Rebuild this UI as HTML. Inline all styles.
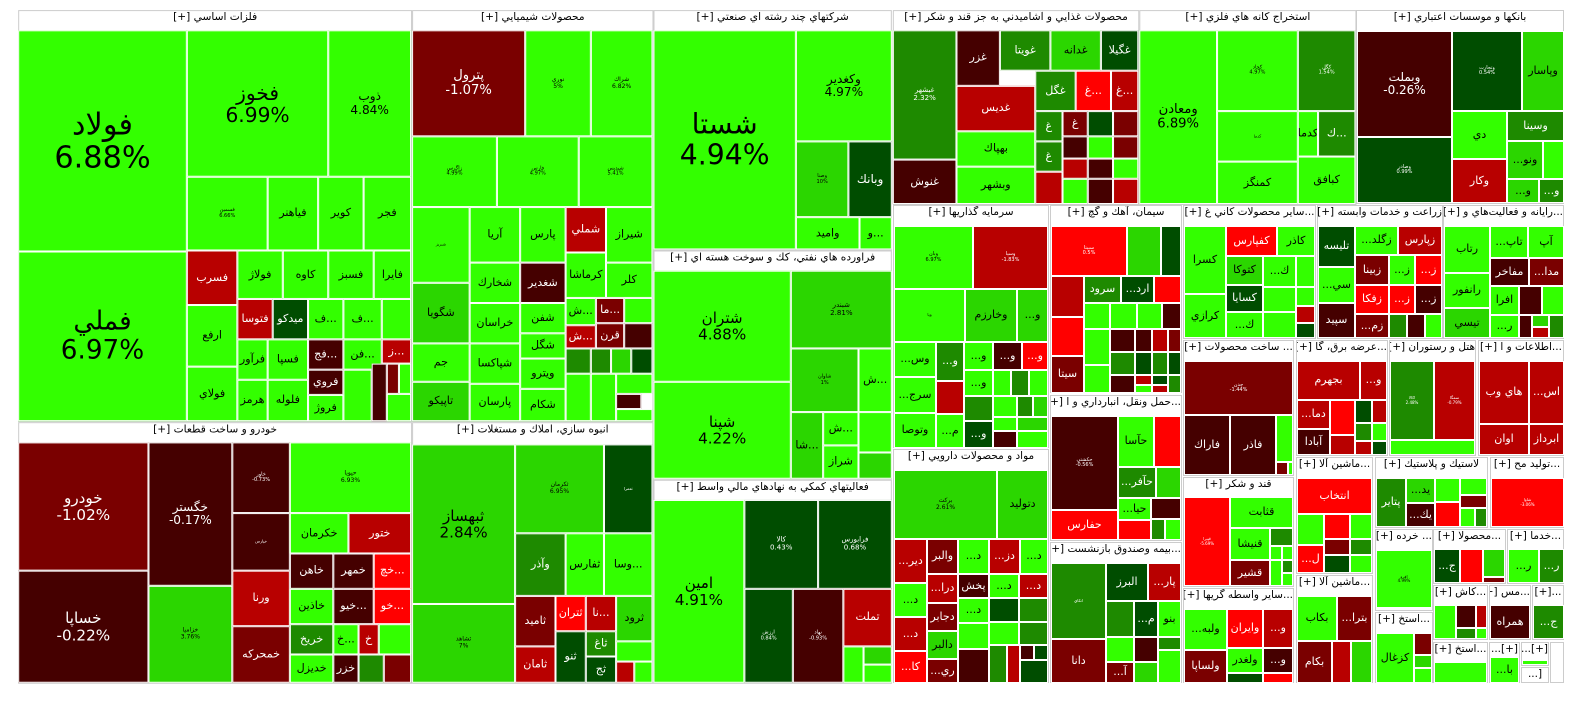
<!DOCTYPE html>
<html><head><meta charset="utf-8"><style>
body{margin:0;background:#fff;width:1584px;height:698px;overflow:hidden;position:relative}
.w{position:absolute;left:0;top:0;width:1584px;height:698px}
.sc{transform:scale(1.01);transform-origin:0 0}
.s{position:absolute;box-sizing:border-box;border:1px solid #ccc;background:#fff}
.h{position:absolute;left:0;right:0;top:0;height:20px;line-height:20px;text-align:center;font:10.5px "DejaVu Sans",sans-serif;color:#000;white-space:nowrap;overflow:hidden;direction:rtl}
.t{position:absolute;box-sizing:border-box;border:1px solid #fff;display:flex;flex-direction:column;align-items:center;justify-content:center;overflow:hidden;font-family:"DejaVu Sans",sans-serif;font-size:11px;line-height:1.1;text-align:center;white-space:nowrap}
.a{background:#33ff00;color:#000}.b{background:#2bd600;color:#000}.c{background:#1e8a00;color:#fff}.d{background:#004d00;color:#fff}
.e{background:#ff0000;color:#fff}.f{background:#b80000;color:#fff}.g{background:#7a0000;color:#fff}.k{background:#450000;color:#fff}
</style></head><body>
<div class="w sc">
<!-- A -->
<div class="s" style="left:18px;top:10px;width:390px;height:408px"><div class="h">فلزات اساسي [+]</div></div>
<div class="t a" style="left:18px;top:30px;width:167px;height:219px;font-size:30px">فولاد<br>6.88%</div>
<div class="t a" style="left:18px;top:249px;width:167px;height:168px;font-size:26px">فملي<br>6.97%</div>
<div class="t a" style="left:185px;top:30px;width:140px;height:145px;font-size:20px">فخوز<br>6.99%</div>
<div class="t a" style="left:325px;top:30px;width:82px;height:145px;font-size:12px">ذوب<br>4.84%</div>
<div class="t a" style="left:185px;top:175px;width:80px;height:73px;font-size:5px">فسمين<br>6.66%</div>
<div class="t a" style="left:265px;top:175px;width:50px;height:73px">فياهنر</div>
<div class="t a" style="left:315px;top:175px;width:45px;height:73px">كوير</div>
<div class="t a" style="left:360px;top:175px;width:47px;height:73px">فجر</div>
<div class="t f" style="left:185px;top:248px;width:50px;height:54px">فسرب</div>
<div class="t a" style="left:235px;top:248px;width:45px;height:48px">فولاژ</div>
<div class="t a" style="left:280px;top:248px;width:45px;height:48px">كاوه</div>
<div class="t a" style="left:325px;top:248px;width:45px;height:48px">فسبز</div>
<div class="t a" style="left:370px;top:248px;width:37px;height:48px">فايرا</div>
<div class="t a" style="left:185px;top:302px;width:50px;height:61px">ارفع</div>
<div class="t a" style="left:185px;top:363px;width:50px;height:54px">فولاي</div>
<div class="t f" style="left:235px;top:296px;width:35px;height:40px">فتوسا</div>
<div class="t d" style="left:270px;top:296px;width:35px;height:40px">ميدكو</div>
<div class="t a" style="left:305px;top:296px;width:35px;height:40px">ف...</div>
<div class="t a" style="left:340px;top:296px;width:38px;height:40px">ف...</div>
<div class="t a" style="left:378px;top:296px;width:29px;height:40px"></div>
<div class="t a" style="left:235px;top:336px;width:30px;height:40px">فرآور</div>
<div class="t a" style="left:235px;top:376px;width:30px;height:41px">هرمز</div>
<div class="t a" style="left:265px;top:336px;width:40px;height:40px">فسپا</div>
<div class="t a" style="left:265px;top:376px;width:40px;height:41px">فلوله</div>
<div class="t k" style="left:305px;top:336px;width:35px;height:30px">فج...</div>
<div class="t a" style="left:340px;top:336px;width:38px;height:30px">فن...</div>
<div class="t f" style="left:378px;top:336px;width:29px;height:24px">ز...</div>
<div class="t k" style="left:305px;top:366px;width:35px;height:25px">فروي</div>
<div class="t a" style="left:305px;top:391px;width:35px;height:26px">فروژ</div>
<div class="t a" style="left:340px;top:366px;width:28px;height:51px"></div>
<div class="t k" style="left:368px;top:360px;width:15px;height:57px"></div>
<div class="t g" style="left:383px;top:360px;width:12px;height:30px"></div>
<div class="t a" style="left:395px;top:360px;width:12px;height:30px"></div>
<div class="t a" style="left:383px;top:390px;width:24px;height:27px"></div>
<!-- B -->
<div class="s" style="left:408px;top:10px;width:239px;height:408px"><div class="h">محصولات شيميايي [+]</div></div>
<div class="t g" style="left:408px;top:30px;width:112px;height:105px;font-size:13px">پترول<br>-1.07%</div>
<div class="t a" style="left:520px;top:30px;width:65px;height:105px;font-size:6px">نوري<br>5%</div>
<div class="t a" style="left:585px;top:30px;width:61px;height:105px;font-size:6px">شراك<br>6.82%</div>
<div class="t a" style="left:408px;top:135px;width:84px;height:70px;font-size:5px">زاگرس<br>4.99%</div>
<div class="t a" style="left:492px;top:135px;width:81px;height:70px;font-size:5px">فارس<br>4.97%</div>
<div class="t a" style="left:573px;top:135px;width:73px;height:70px;font-size:5px">شپديس<br>5.41%</div>
<div class="t a" style="left:408px;top:205px;width:57px;height:75px;font-size:4px">شبريز</div>
<div class="t a" style="left:465px;top:205px;width:50px;height:55px">آريا</div>
<div class="t a" style="left:515px;top:205px;width:45px;height:55px">پارس</div>
<div class="t f" style="left:560px;top:205px;width:40px;height:45px">شملي</div>
<div class="t a" style="left:600px;top:205px;width:46px;height:55px">شيراز</div>
<div class="t b" style="left:408px;top:280px;width:57px;height:60px">شگويا</div>
<div class="t a" style="left:465px;top:260px;width:50px;height:40px">شخارك</div>
<div class="t k" style="left:515px;top:260px;width:45px;height:40px">شغدير</div>
<div class="t a" style="left:560px;top:250px;width:40px;height:45px">كرماشا</div>
<div class="t a" style="left:600px;top:260px;width:46px;height:35px">كلر</div>
<div class="t a" style="left:408px;top:340px;width:57px;height:38px">جم</div>
<div class="t b" style="left:408px;top:378px;width:57px;height:39px">تاپيكو</div>
<div class="t a" style="left:465px;top:300px;width:50px;height:40px">خراسان</div>
<div class="t a" style="left:465px;top:340px;width:50px;height:40px">شپاكسا</div>
<div class="t a" style="left:465px;top:380px;width:50px;height:37px">پارسان</div>
<div class="t a" style="left:515px;top:300px;width:45px;height:30px">شفن</div>
<div class="t a" style="left:515px;top:330px;width:45px;height:25px">شگل</div>
<div class="t a" style="left:515px;top:355px;width:45px;height:30px">ويترو</div>
<div class="t a" style="left:515px;top:385px;width:45px;height:32px">شكام</div>
<div class="t a" style="left:560px;top:295px;width:30px;height:27px">ش...</div>
<div class="t g" style="left:590px;top:295px;width:28px;height:25px">ما...</div>
<div class="t a" style="left:618px;top:295px;width:28px;height:25px"></div>
<div class="t f" style="left:560px;top:322px;width:30px;height:23px">ش...</div>
<div class="t g" style="left:590px;top:320px;width:28px;height:25px">قرن</div>
<div class="t k" style="left:618px;top:320px;width:28px;height:25px"></div>
<div class="t c" style="left:560px;top:345px;width:25px;height:25px"></div>
<div class="t c" style="left:585px;top:345px;width:20px;height:25px"></div>
<div class="t b" style="left:605px;top:345px;width:20px;height:25px"></div>
<div class="t d" style="left:625px;top:345px;width:21px;height:25px"></div>
<div class="t a" style="left:560px;top:370px;width:25px;height:47px"></div>
<div class="t a" style="left:585px;top:370px;width:25px;height:47px"></div>
<div class="t a" style="left:610px;top:370px;width:36px;height:20px"></div>
<div class="t k" style="left:610px;top:390px;width:25px;height:15px"></div>
<div class="t a" style="left:610px;top:405px;width:36px;height:12px"></div>
<!-- C -->
<div class="s" style="left:647px;top:10px;width:236px;height:238px"><div class="h">شركتهاي چند رشته اي صنعتي [+]</div></div>
<div class="t a" style="left:647px;top:30px;width:141px;height:217px;font-size:28px">شستا<br>4.94%</div>
<div class="t a" style="left:788px;top:30px;width:95px;height:110px;font-size:12px">وكغدير<br>4.97%</div>
<div class="t b" style="left:788px;top:140px;width:52px;height:75px;font-size:5px">وصنا<br>10%</div>
<div class="t d" style="left:840px;top:140px;width:43px;height:75px;font-size:12px">وبانك</div>
<div class="t a" style="left:788px;top:215px;width:63px;height:32px">واميد</div>
<div class="t a" style="left:851px;top:215px;width:32px;height:32px">و...</div>
<!-- D -->
<div class="s" style="left:647px;top:248px;width:236px;height:227px"><div class="h">فراورده هاي نفتي، كك و سوخت هسته اي [+]</div></div>
<div class="t a" style="left:647px;top:268px;width:136px;height:110px;font-size:15px">شتران<br>4.88%</div>
<div class="t a" style="left:647px;top:378px;width:136px;height:96px;font-size:15px">شپنا<br>4.22%</div>
<div class="t b" style="left:783px;top:268px;width:100px;height:77px;font-size:7px">شبندر<br>2.81%</div>
<div class="t b" style="left:783px;top:345px;width:67px;height:63px;font-size:5px">شاوان<br>1%</div>
<div class="t a" style="left:850px;top:345px;width:33px;height:63px">ش...</div>
<div class="t b" style="left:783px;top:408px;width:32px;height:66px">شا...</div>
<div class="t a" style="left:815px;top:408px;width:35px;height:33px">ش...</div>
<div class="t a" style="left:815px;top:441px;width:35px;height:33px">شراز</div>
<div class="t a" style="left:850px;top:408px;width:33px;height:40px"></div>
<div class="t b" style="left:850px;top:448px;width:33px;height:26px"></div>
<!-- E -->
<div class="s" style="left:647px;top:475px;width:236px;height:202px"><div class="h">فعاليتهاي كمكي به نهادهاي مالي واسط [+]</div></div>
<div class="t a" style="left:647px;top:495px;width:90px;height:181px;font-size:15px">امين<br>4.91%</div>
<div class="t d" style="left:737px;top:495px;width:73px;height:88px;font-size:7px">كالا<br>0.43%</div>
<div class="t d" style="left:810px;top:495px;width:73px;height:88px;font-size:7px">فرابورس<br>0.68%</div>
<div class="t d" style="left:737px;top:583px;width:48px;height:93px;font-size:5px">ارزش<br>0.84%</div>
<div class="t k" style="left:785px;top:583px;width:50px;height:93px;font-size:5px">نهاد<br>-0.93%</div>
<div class="t f" style="left:835px;top:583px;width:48px;height:57px">تملت</div>
<div class="t a" style="left:835px;top:640px;width:20px;height:36px"></div>
<div class="t b" style="left:855px;top:640px;width:28px;height:18px"></div>
<div class="t a" style="left:855px;top:658px;width:28px;height:18px"></div>
<!-- F -->
<div class="s" style="left:18px;top:418px;width:390px;height:259px"><div class="h">خودرو و ساخت قطعات [+]</div></div>
<div class="t g" style="left:18px;top:438px;width:129px;height:127px;font-size:15px">خودرو<br>-1.02%</div>
<div class="t k" style="left:18px;top:565px;width:129px;height:111px;font-size:15px">خساپا<br>-0.22%</div>
<div class="t k" style="left:147px;top:438px;width:83px;height:142px;font-size:12px">خگستر<br>-0.17%</div>
<div class="t b" style="left:147px;top:580px;width:83px;height:96px;font-size:6px">خزامیا<br>3.76%</div>
<div class="t k" style="left:230px;top:438px;width:57px;height:70px;font-size:5px">خاور<br>-0.73%</div>
<div class="t a" style="left:287px;top:438px;width:120px;height:70px;font-size:6px">حپويا<br>6.93%</div>
<div class="t k" style="left:230px;top:508px;width:57px;height:57px;font-size:4px">خپارس</div>
<div class="t a" style="left:287px;top:508px;width:58px;height:40px">خكرمان</div>
<div class="t f" style="left:345px;top:508px;width:62px;height:40px">ختور</div>
<div class="t f" style="left:230px;top:565px;width:57px;height:55px">ورنا</div>
<div class="t g" style="left:230px;top:620px;width:57px;height:56px">خمحركه</div>
<div class="t k" style="left:287px;top:548px;width:43px;height:35px">خاهن</div>
<div class="t k" style="left:330px;top:548px;width:40px;height:35px">خمهر</div>
<div class="t e" style="left:370px;top:548px;width:37px;height:35px">خچ...</div>
<div class="t a" style="left:287px;top:583px;width:43px;height:35px">خاذين</div>
<div class="t k" style="left:330px;top:583px;width:40px;height:35px">خيو...</div>
<div class="t e" style="left:370px;top:583px;width:37px;height:35px">خو...</div>
<div class="t c" style="left:287px;top:618px;width:43px;height:30px">خريخ</div>
<div class="t a" style="left:330px;top:618px;width:25px;height:30px">خ...</div>
<div class="t f" style="left:355px;top:618px;width:20px;height:30px">خ</div>
<div class="t a" style="left:375px;top:618px;width:32px;height:30px"></div>
<div class="t a" style="left:287px;top:648px;width:43px;height:28px">خديزل</div>
<div class="t k" style="left:330px;top:648px;width:25px;height:28px">خزر</div>
<div class="t c" style="left:355px;top:648px;width:25px;height:28px"></div>
<div class="t g" style="left:380px;top:648px;width:27px;height:28px"></div>
<!-- G -->
<div class="s" style="left:408px;top:418px;width:239px;height:259px"><div class="h">انبوه سازي، املاك و مستغلات [+]</div></div>
<div class="t b" style="left:408px;top:440px;width:102px;height:158px;font-size:15px">ثبهساز<br>2.84%</div>
<div class="t b" style="left:408px;top:598px;width:102px;height:78px;font-size:6px">ثشاهد<br>7%</div>
<div class="t b" style="left:510px;top:440px;width:88px;height:88px;font-size:6px">ثكرمان<br>6.95%</div>
<div class="t d" style="left:598px;top:440px;width:48px;height:88px;font-size:4px">ثعمرا</div>
<div class="t c" style="left:510px;top:528px;width:50px;height:62px">وآذر</div>
<div class="t a" style="left:560px;top:528px;width:38px;height:62px">ثفارس</div>
<div class="t a" style="left:598px;top:528px;width:48px;height:62px">وسا...</div>
<div class="t g" style="left:510px;top:590px;width:40px;height:50px">ثاميد</div>
<div class="t e" style="left:550px;top:590px;width:30px;height:35px">ثتران</div>
<div class="t f" style="left:580px;top:590px;width:30px;height:35px">نا...</div>
<div class="t b" style="left:610px;top:590px;width:36px;height:45px">ثرود</div>
<div class="t f" style="left:510px;top:640px;width:40px;height:36px">ثامان</div>
<div class="t d" style="left:550px;top:625px;width:30px;height:51px">ثنو</div>
<div class="t c" style="left:580px;top:625px;width:30px;height:25px">ثاغ</div>
<div class="t d" style="left:580px;top:650px;width:30px;height:26px">ثج</div>
<div class="t a" style="left:610px;top:635px;width:36px;height:20px"></div>
<div class="t f" style="left:610px;top:655px;width:18px;height:21px"></div>
<div class="t a" style="left:628px;top:655px;width:18px;height:21px"></div>
<!-- H -->
<div class="s" style="left:884px;top:10px;width:244px;height:193px"><div class="h">محصولات غذايي و آشاميدني به جز قند و شكر [+]</div></div>
<div class="t c" style="left:884px;top:30px;width:63px;height:128px;font-size:7px">غبشهر<br>2.32%</div>
<div class="t k" style="left:884px;top:158px;width:63px;height:44px">غنوش</div>
<div class="t k" style="left:947px;top:30px;width:43px;height:55px">غزر</div>
<div class="t c" style="left:990px;top:30px;width:50px;height:40px">غويتا</div>
<div class="t b" style="left:1040px;top:30px;width:50px;height:40px">غدانه</div>
<div class="t d" style="left:1090px;top:30px;width:37px;height:40px">غگيلا</div>
<div class="t f" style="left:947px;top:85px;width:78px;height:45px">غديس</div>
<div class="t c" style="left:1025px;top:70px;width:40px;height:40px">غگل</div>
<div class="t e" style="left:1065px;top:70px;width:35px;height:40px">غ...</div>
<div class="t f" style="left:1100px;top:70px;width:27px;height:40px">غ...</div>
<div class="t a" style="left:947px;top:130px;width:78px;height:35px">بهپاك</div>
<div class="t a" style="left:947px;top:165px;width:78px;height:37px">وبشهر</div>
<div class="t c" style="left:1025px;top:110px;width:27px;height:30px">غ</div>
<div class="t g" style="left:1052px;top:110px;width:25px;height:25px">غ</div>
<div class="t d" style="left:1077px;top:110px;width:25px;height:25px"></div>
<div class="t g" style="left:1102px;top:110px;width:25px;height:25px"></div>
<div class="t c" style="left:1025px;top:140px;width:27px;height:30px">غ</div>
<div class="t f" style="left:1025px;top:170px;width:27px;height:32px"></div>
<div class="t k" style="left:1052px;top:135px;width:25px;height:22px"></div>
<div class="t a" style="left:1077px;top:135px;width:25px;height:22px"></div>
<div class="t g" style="left:1102px;top:135px;width:25px;height:22px"></div>
<div class="t f" style="left:1052px;top:157px;width:25px;height:20px"></div>
<div class="t k" style="left:1077px;top:157px;width:25px;height:20px"></div>
<div class="t a" style="left:1102px;top:157px;width:25px;height:20px"></div>
<div class="t a" style="left:1052px;top:177px;width:25px;height:25px"></div>
<div class="t k" style="left:1077px;top:177px;width:25px;height:25px"></div>
<div class="t f" style="left:1102px;top:177px;width:25px;height:25px"></div>
<!-- I -->
<div class="s" style="left:1128px;top:10px;width:215px;height:193px"><div class="h">استخراج كانه هاي فلزي [+]</div></div>
<div class="t a" style="left:1128px;top:30px;width:77px;height:172px;font-size:13px">ومعادن<br>6.89%</div>
<div class="t a" style="left:1205px;top:30px;width:80px;height:80px;font-size:5px">كچاد<br>4.97%</div>
<div class="t c" style="left:1285px;top:30px;width:57px;height:80px;font-size:5px">كگل<br>1.54%</div>
<div class="t a" style="left:1205px;top:110px;width:80px;height:50px;font-size:4px">كدما</div>
<div class="t a" style="left:1205px;top:160px;width:80px;height:42px">كمنگز</div>
<div class="t a" style="left:1285px;top:110px;width:20px;height:45px">كدما</div>
<div class="t c" style="left:1305px;top:110px;width:37px;height:45px">ك...</div>
<div class="t a" style="left:1285px;top:155px;width:57px;height:47px">كبافق</div>
</div>

<div class="w">
<!-- J banks -->
<div class="s" style="left:1356px;top:10px;width:208px;height:194px"><div class="h">بانكها و موسسات اعتباري [+]</div></div>
<div class="t k" style="left:1357px;top:31px;width:95px;height:106px;font-size:12px">وبملت<br>-0.26%</div>
<div class="t d" style="left:1357px;top:137px;width:95px;height:66px;font-size:5px">وصادر<br>0.99%</div>
<div class="t d" style="left:1452px;top:31px;width:70px;height:80px;font-size:5px">وتجارت<br>0.54%</div>
<div class="t b" style="left:1522px;top:31px;width:42px;height:80px">وپاسار</div>
<div class="t a" style="left:1452px;top:111px;width:55px;height:48px">دي</div>
<div class="t c" style="left:1507px;top:111px;width:57px;height:30px">وسينا</div>
<div class="t b" style="left:1507px;top:141px;width:36px;height:38px">...ونو</div>
<div class="t a" style="left:1543px;top:141px;width:21px;height:38px"></div>
<div class="t f" style="left:1452px;top:159px;width:55px;height:44px">وكار</div>
<div class="t b" style="left:1507px;top:179px;width:32px;height:24px">...و</div>
<div class="t c" style="left:1539px;top:179px;width:25px;height:24px">...و</div>
<!-- K -->
<div class="s" style="left:893px;top:205px;width:156px;height:243px"><div class="h">سرمايه گذاريها [+]</div></div>
<div class="t a" style="left:894px;top:226px;width:79px;height:63px;font-size:5px">وبان<br>6.97%</div>
<div class="t f" style="left:973px;top:226px;width:75px;height:63px;font-size:5px">وسپا<br>-1.83%</div>
<div class="t a" style="left:894px;top:289px;width:71px;height:53px;font-size:4px">ويا</div>
<div class="t b" style="left:965px;top:289px;width:52px;height:53px">وخارزم</div>
<div class="t b" style="left:1017px;top:289px;width:31px;height:53px">...و</div>
<div class="t a" style="left:894px;top:342px;width:42px;height:35px">...وس</div>
<div class="t c" style="left:936px;top:342px;width:28px;height:39px">...و</div>
<div class="t a" style="left:964px;top:342px;width:29px;height:28px">...و</div>
<div class="t k" style="left:993px;top:342px;width:29px;height:28px">...و</div>
<div class="t e" style="left:1022px;top:342px;width:26px;height:28px">...و</div>
<div class="t a" style="left:894px;top:377px;width:42px;height:36px">...سرج</div>
<div class="t f" style="left:936px;top:381px;width:28px;height:33px"></div>
<div class="t a" style="left:964px;top:370px;width:29px;height:26px">...و</div>
<div class="t a" style="left:993px;top:370px;width:18px;height:26px"></div>
<div class="t c" style="left:1011px;top:370px;width:18px;height:26px"></div>
<div class="t a" style="left:1029px;top:370px;width:19px;height:26px"></div>
<div class="t a" style="left:894px;top:413px;width:42px;height:35px">وتوصا</div>
<div class="t a" style="left:936px;top:414px;width:28px;height:34px">...م</div>
<div class="t c" style="left:964px;top:396px;width:29px;height:25px"></div>
<div class="t d" style="left:964px;top:421px;width:29px;height:27px">...و</div>
<div class="t a" style="left:993px;top:396px;width:24px;height:21px"></div>
<div class="t c" style="left:1017px;top:396px;width:16px;height:21px"></div>
<div class="t b" style="left:1033px;top:396px;width:15px;height:21px"></div>
<div class="t a" style="left:993px;top:417px;width:24px;height:14px"></div>
<div class="t b" style="left:1017px;top:417px;width:31px;height:14px"></div>
<div class="t k" style="left:993px;top:431px;width:24px;height:17px"></div>
<div class="t a" style="left:1017px;top:431px;width:31px;height:17px"></div>
<!-- L -->
<div class="s" style="left:893px;top:449px;width:156px;height:234px"><div class="h">مواد و محصولات دارويي [+]</div></div>
<div class="t b" style="left:894px;top:470px;width:103px;height:69px;font-size:6px">بركت<br>2.61%</div>
<div class="t b" style="left:997px;top:470px;width:51px;height:69px">دتوليد</div>
<div class="t f" style="left:894px;top:539px;width:33px;height:44px">...دير</div>
<div class="t g" style="left:927px;top:539px;width:31px;height:35px">والبر</div>
<div class="t a" style="left:958px;top:539px;width:31px;height:35px">...د</div>
<div class="t f" style="left:989px;top:539px;width:31px;height:35px">...دز</div>
<div class="t a" style="left:1020px;top:539px;width:28px;height:35px">...د</div>
<div class="t a" style="left:894px;top:583px;width:33px;height:34px">...د</div>
<div class="t f" style="left:927px;top:574px;width:31px;height:29px">...درا</div>
<div class="t k" style="left:958px;top:574px;width:31px;height:24px">پخش</div>
<div class="t a" style="left:989px;top:574px;width:30px;height:24px">...د</div>
<div class="t f" style="left:1019px;top:574px;width:29px;height:24px">...د</div>
<div class="t f" style="left:894px;top:617px;width:33px;height:34px">...د</div>
<div class="t g" style="left:927px;top:603px;width:31px;height:28px">دجابر</div>
<div class="t a" style="left:958px;top:598px;width:31px;height:25px">...د</div>
<div class="t d" style="left:989px;top:598px;width:30px;height:24px"></div>
<div class="t c" style="left:1019px;top:598px;width:29px;height:24px"></div>
<div class="t e" style="left:894px;top:651px;width:33px;height:32px">...كا</div>
<div class="t b" style="left:927px;top:631px;width:31px;height:28px">دالبر</div>
<div class="t a" style="left:958px;top:623px;width:31px;height:26px"></div>
<div class="t a" style="left:989px;top:622px;width:30px;height:23px"></div>
<div class="t c" style="left:1019px;top:622px;width:29px;height:23px"></div>
<div class="t g" style="left:927px;top:659px;width:31px;height:24px">...ري</div>
<div class="t k" style="left:958px;top:649px;width:31px;height:34px"></div>
<div class="t c" style="left:989px;top:645px;width:18px;height:38px"></div>
<div class="t f" style="left:1007px;top:645px;width:13px;height:38px"></div>
<div class="t k" style="left:1020px;top:645px;width:14px;height:15px"></div>
<div class="t d" style="left:1034px;top:645px;width:14px;height:15px"></div>
<div class="t d" style="left:1020px;top:660px;width:28px;height:23px"></div>
<!-- M -->
<div class="s" style="left:1050px;top:205px;width:132px;height:188px"><div class="h">سيمان، آهك و گچ [+]</div></div>
<div class="t e" style="left:1051px;top:226px;width:76px;height:50px;font-size:5px">سبيتا<br>0.5%</div>
<div class="t b" style="left:1127px;top:226px;width:34px;height:50px"></div>
<div class="t d" style="left:1161px;top:226px;width:20px;height:50px"></div>
<div class="t f" style="left:1051px;top:276px;width:33px;height:41px"></div>
<div class="t c" style="left:1084px;top:276px;width:37px;height:27px">سرود</div>
<div class="t d" style="left:1121px;top:276px;width:33px;height:27px">...ارد</div>
<div class="t e" style="left:1154px;top:276px;width:27px;height:27px"></div>
<div class="t e" style="left:1051px;top:317px;width:33px;height:39px"></div>
<div class="t a" style="left:1084px;top:303px;width:26px;height:26px"></div>
<div class="t a" style="left:1110px;top:303px;width:27px;height:26px"></div>
<div class="t a" style="left:1137px;top:303px;width:25px;height:26px"></div>
<div class="t k" style="left:1162px;top:303px;width:19px;height:26px"></div>
<div class="t a" style="left:1084px;top:329px;width:26px;height:36px"></div>
<div class="t k" style="left:1110px;top:329px;width:25px;height:23px"></div>
<div class="t k" style="left:1135px;top:329px;width:17px;height:23px"></div>
<div class="t f" style="left:1152px;top:329px;width:16px;height:23px"></div>
<div class="t g" style="left:1168px;top:329px;width:13px;height:23px"></div>
<div class="t g" style="left:1051px;top:356px;width:33px;height:37px">سيتا</div>
<div class="t a" style="left:1084px;top:365px;width:26px;height:28px"></div>
<div class="t c" style="left:1110px;top:352px;width:25px;height:23px"></div>
<div class="t d" style="left:1135px;top:352px;width:17px;height:23px"></div>
<div class="t c" style="left:1152px;top:352px;width:16px;height:23px"></div>
<div class="t d" style="left:1168px;top:352px;width:13px;height:23px"></div>
<div class="t k" style="left:1110px;top:375px;width:25px;height:18px"></div>
<div class="t f" style="left:1135px;top:375px;width:17px;height:10px"></div>
<div class="t d" style="left:1152px;top:375px;width:16px;height:10px"></div>
<div class="t a" style="left:1135px;top:385px;width:17px;height:8px"></div>
<div class="t f" style="left:1152px;top:385px;width:16px;height:8px"></div>
<div class="t c" style="left:1168px;top:375px;width:13px;height:18px"></div>
<!-- N -->
<div class="s" style="left:1050px;top:395px;width:132px;height:146px"><div class="h">...حمل ونقل، انبارداري و ا [+]</div></div>
<div class="t k" style="left:1051px;top:416px;width:67px;height:94px;font-size:5px">حكشتي<br>-0.56%</div>
<div class="t e" style="left:1051px;top:510px;width:67px;height:30px">حفارس</div>
<div class="t a" style="left:1118px;top:416px;width:36px;height:51px">حآسا</div>
<div class="t e" style="left:1154px;top:416px;width:27px;height:51px"></div>
<div class="t c" style="left:1118px;top:467px;width:38px;height:31px">...حآفر</div>
<div class="t b" style="left:1156px;top:467px;width:25px;height:31px"></div>
<div class="t a" style="left:1118px;top:498px;width:33px;height:22px">...حيا</div>
<div class="t k" style="left:1151px;top:498px;width:30px;height:21px"></div>
<div class="t e" style="left:1118px;top:520px;width:33px;height:20px"></div>
<div class="t c" style="left:1151px;top:519px;width:14px;height:21px"></div>
<div class="t a" style="left:1165px;top:519px;width:16px;height:21px"></div>
<!-- O -->
<div class="s" style="left:1050px;top:542px;width:132px;height:141px"><div class="h">...بيمه وصندوق بازنشست [+]</div></div>
<div class="t c" style="left:1051px;top:563px;width:55px;height:76px;font-size:4px">اتكاي</div>
<div class="t d" style="left:1106px;top:563px;width:42px;height:38px">البرز</div>
<div class="t f" style="left:1148px;top:563px;width:33px;height:38px">...پار</div>
<div class="t c" style="left:1106px;top:601px;width:28px;height:36px"></div>
<div class="t d" style="left:1134px;top:601px;width:24px;height:36px">...م</div>
<div class="t a" style="left:1158px;top:601px;width:23px;height:36px">بنو</div>
<div class="t g" style="left:1051px;top:639px;width:55px;height:44px">دانا</div>
<div class="t a" style="left:1106px;top:637px;width:28px;height:25px"></div>
<div class="t k" style="left:1134px;top:637px;width:24px;height:25px"></div>
<div class="t c" style="left:1158px;top:637px;width:23px;height:13px"></div>
<div class="t g" style="left:1106px;top:662px;width:28px;height:21px">...آ</div>
<div class="t b" style="left:1134px;top:662px;width:24px;height:21px"></div>
<div class="t a" style="left:1158px;top:650px;width:23px;height:33px"></div>
<!-- P -->
<div class="s" style="left:1183px;top:205px;width:133px;height:134px"><div class="h">...ساير محصولات كاني غ [+]</div></div>
<div class="t a" style="left:1184px;top:226px;width:42px;height:68px">كسرا</div>
<div class="t a" style="left:1184px;top:294px;width:42px;height:44px">كرازي</div>
<div class="t e" style="left:1226px;top:226px;width:51px;height:30px">كفپارس</div>
<div class="t a" style="left:1277px;top:226px;width:38px;height:30px">كاذر</div>
<div class="t b" style="left:1226px;top:256px;width:37px;height:29px">كتوكا</div>
<div class="t a" style="left:1263px;top:256px;width:33px;height:31px">...ك</div>
<div class="t a" style="left:1296px;top:256px;width:19px;height:31px"></div>
<div class="t d" style="left:1226px;top:285px;width:37px;height:27px">كسايا</div>
<div class="t a" style="left:1263px;top:287px;width:33px;height:25px"></div>
<div class="t a" style="left:1296px;top:287px;width:19px;height:19px"></div>
<div class="t f" style="left:1296px;top:306px;width:19px;height:17px"></div>
<div class="t d" style="left:1296px;top:323px;width:19px;height:15px"></div>
<div class="t a" style="left:1226px;top:312px;width:37px;height:26px">...ك</div>
<div class="t a" style="left:1263px;top:312px;width:33px;height:26px"></div>
<!-- Q -->
<div class="s" style="left:1317px;top:205px;width:126px;height:134px"><div class="h">زراعت و خدمات وابسته [+]</div></div>
<div class="t d" style="left:1318px;top:226px;width:37px;height:41px">تليسه</div>
<div class="t a" style="left:1318px;top:267px;width:37px;height:36px">...سي</div>
<div class="t k" style="left:1318px;top:303px;width:37px;height:35px">سپيد</div>
<div class="t a" style="left:1355px;top:226px;width:43px;height:29px">...زگلد</div>
<div class="t f" style="left:1398px;top:226px;width:44px;height:29px">زپارس</div>
<div class="t g" style="left:1355px;top:255px;width:34px;height:30px">زبينا</div>
<div class="t a" style="left:1389px;top:255px;width:26px;height:30px">...ز</div>
<div class="t e" style="left:1415px;top:255px;width:27px;height:30px">...ز</div>
<div class="t e" style="left:1355px;top:285px;width:34px;height:29px">زفكا</div>
<div class="t e" style="left:1389px;top:285px;width:26px;height:29px">...ز</div>
<div class="t k" style="left:1415px;top:285px;width:27px;height:29px">...ز</div>
<div class="t g" style="left:1355px;top:314px;width:34px;height:24px">...زم</div>
<div class="t c" style="left:1389px;top:314px;width:18px;height:24px"></div>
<div class="t k" style="left:1407px;top:314px;width:18px;height:24px"></div>
<div class="t a" style="left:1425px;top:314px;width:17px;height:24px"></div>
<!-- R -->
<div class="s" style="left:1443px;top:205px;width:121px;height:134px"><div class="h">...رايانه و فعاليت‌هاي و [+]</div></div>
<div class="t a" style="left:1444px;top:226px;width:46px;height:47px">رتاب</div>
<div class="t a" style="left:1444px;top:273px;width:46px;height:35px">رانفور</div>
<div class="t b" style="left:1444px;top:308px;width:46px;height:30px">تيسي</div>
<div class="t a" style="left:1490px;top:226px;width:38px;height:32px">...تاپ</div>
<div class="t a" style="left:1528px;top:226px;width:36px;height:32px">آپ</div>
<div class="t k" style="left:1490px;top:258px;width:39px;height:28px">مفاخر</div>
<div class="t g" style="left:1529px;top:258px;width:35px;height:28px">...مدا</div>
<div class="t a" style="left:1490px;top:286px;width:29px;height:29px">افرا</div>
<div class="t k" style="left:1519px;top:286px;width:23px;height:29px"></div>
<div class="t a" style="left:1542px;top:286px;width:22px;height:29px"></div>
<div class="t a" style="left:1490px;top:315px;width:29px;height:23px">...ر</div>
<div class="t k" style="left:1519px;top:315px;width:13px;height:23px"></div>
<div class="t b" style="left:1532px;top:315px;width:17px;height:12px"></div>
<div class="t f" style="left:1532px;top:327px;width:17px;height:11px"></div>
<div class="t c" style="left:1549px;top:315px;width:15px;height:23px"></div>
<!-- S -->
<div class="s" style="left:1183px;top:340px;width:111px;height:136px"><div class="h">... ساخت محصولات [+]</div></div>
<div class="t g" style="left:1184px;top:361px;width:109px;height:54px;font-size:5px">چدن<br>-1.44%</div>
<div class="t k" style="left:1184px;top:415px;width:46px;height:60px">فاراك</div>
<div class="t k" style="left:1230px;top:415px;width:46px;height:60px">فاذر</div>
<div class="t a" style="left:1276px;top:415px;width:17px;height:47px"></div>
<div class="t g" style="left:1276px;top:462px;width:12px;height:13px"></div>
<div class="t a" style="left:1288px;top:462px;width:5px;height:13px"></div>
<!-- T -->
<div class="s" style="left:1296px;top:340px;width:92px;height:116px"><div class="h">...عرضه برق، گا [+]</div></div>
<div class="t f" style="left:1297px;top:361px;width:63px;height:39px">بجهرم</div>
<div class="t f" style="left:1360px;top:361px;width:27px;height:39px">...و</div>
<div class="t f" style="left:1297px;top:400px;width:33px;height:29px">...دما</div>
<div class="t e" style="left:1330px;top:400px;width:25px;height:35px"></div>
<div class="t d" style="left:1355px;top:400px;width:17px;height:23px"></div>
<div class="t f" style="left:1372px;top:400px;width:15px;height:23px"></div>
<div class="t k" style="left:1297px;top:429px;width:33px;height:26px">آبادا</div>
<div class="t f" style="left:1330px;top:435px;width:25px;height:20px"></div>
<div class="t c" style="left:1355px;top:423px;width:17px;height:18px"></div>
<div class="t a" style="left:1372px;top:423px;width:15px;height:18px"></div>
<div class="t f" style="left:1355px;top:441px;width:17px;height:14px"></div>
<div class="t d" style="left:1372px;top:441px;width:15px;height:14px"></div>
<!-- U -->
<div class="s" style="left:1389px;top:340px;width:87px;height:116px"><div class="h">هتل و رستوران [+]</div></div>
<div class="t c" style="left:1390px;top:361px;width:44px;height:79px;font-size:4px">اكالا<br>2.48%</div>
<div class="t f" style="left:1434px;top:361px;width:41px;height:79px;font-size:4px">سمگا<br>-0.79%</div>
<div class="t a" style="left:1390px;top:440px;width:85px;height:15px"></div>
<!-- V -->
<div class="s" style="left:1478px;top:340px;width:86px;height:116px"><div class="h">...اطلاعات و ا [+]</div></div>
<div class="t f" style="left:1479px;top:361px;width:50px;height:63px">هاي وب</div>
<div class="t f" style="left:1529px;top:361px;width:35px;height:63px">...اس</div>
<div class="t f" style="left:1479px;top:424px;width:50px;height:31px">اوان</div>
<div class="t f" style="left:1529px;top:424px;width:35px;height:31px">ابرداز</div>
<!-- W -->
<div class="s" style="left:1183px;top:477px;width:111px;height:110px"><div class="h">قند و شكر [+]</div></div>
<div class="t e" style="left:1184px;top:497px;width:46px;height:89px;font-size:4px">قپيرا<br>-5.69%</div>
<div class="t a" style="left:1230px;top:497px;width:63px;height:31px">قثابت</div>
<div class="t a" style="left:1230px;top:528px;width:40px;height:32px">قنيشا</div>
<div class="t c" style="left:1270px;top:528px;width:23px;height:18px"></div>
<div class="t a" style="left:1270px;top:546px;width:12px;height:14px"></div>
<div class="t a" style="left:1282px;top:546px;width:11px;height:14px"></div>
<div class="t g" style="left:1230px;top:560px;width:40px;height:26px">قشير</div>
<div class="t a" style="left:1270px;top:560px;width:12px;height:26px"></div>
<div class="t c" style="left:1282px;top:560px;width:11px;height:13px"></div>
<div class="t a" style="left:1282px;top:573px;width:11px;height:13px"></div>
<!-- X -->
<div class="s" style="left:1296px;top:457px;width:77px;height:117px"><div class="h">...ماشين آلا [+]</div></div>
<div class="t e" style="left:1297px;top:478px;width:75px;height:36px">انتخاب</div>
<div class="t a" style="left:1297px;top:514px;width:27px;height:31px"></div>
<div class="t e" style="left:1324px;top:514px;width:26px;height:25px"></div>
<div class="t a" style="left:1350px;top:514px;width:22px;height:25px"></div>
<div class="t e" style="left:1297px;top:545px;width:27px;height:28px">...ل</div>
<div class="t g" style="left:1324px;top:539px;width:26px;height:16px"></div>
<div class="t c" style="left:1350px;top:539px;width:22px;height:16px"></div>
<div class="t d" style="left:1324px;top:555px;width:26px;height:18px"></div>
<div class="t a" style="left:1350px;top:555px;width:22px;height:18px"></div>
<!-- Y -->
<div class="s" style="left:1375px;top:457px;width:113px;height:71px"><div class="h">لاستيك و پلاستيك [+]</div></div>
<div class="t c" style="left:1376px;top:478px;width:30px;height:49px">پتاير</div>
<div class="t b" style="left:1406px;top:478px;width:29px;height:25px">...يد</div>
<div class="t k" style="left:1406px;top:503px;width:29px;height:24px">...يك</div>
<div class="t a" style="left:1435px;top:478px;width:25px;height:24px"></div>
<div class="t e" style="left:1435px;top:502px;width:25px;height:25px"></div>
<div class="t a" style="left:1460px;top:478px;width:27px;height:17px"></div>
<div class="t g" style="left:1460px;top:495px;width:27px;height:13px"></div>
<div class="t a" style="left:1460px;top:508px;width:15px;height:19px"></div>
<div class="t c" style="left:1475px;top:508px;width:12px;height:19px"></div>
<!-- Z -->
<div class="s" style="left:1490px;top:457px;width:74px;height:71px"><div class="h">...توليد مح [+]</div></div>
<div class="t e" style="left:1491px;top:478px;width:73px;height:49px;font-size:4px">شاوا<br>-3.06%</div>
<!-- AA -->
<div class="s" style="left:1183px;top:588px;width:111px;height:95px"><div class="h">...ساير واسطه گريها [+]</div></div>
<div class="t a" style="left:1184px;top:609px;width:43px;height:41px">...ولبه</div>
<div class="t e" style="left:1227px;top:609px;width:36px;height:39px">وايران</div>
<div class="t f" style="left:1263px;top:609px;width:30px;height:39px">...و</div>
<div class="t g" style="left:1184px;top:650px;width:43px;height:33px">ولساپا</div>
<div class="t a" style="left:1227px;top:648px;width:36px;height:25px">ولغدر</div>
<div class="t k" style="left:1263px;top:648px;width:30px;height:25px">...و</div>
<div class="t d" style="left:1227px;top:673px;width:36px;height:10px"></div>
<div class="t e" style="left:1263px;top:673px;width:30px;height:10px"></div>
<!-- AB -->
<div class="s" style="left:1296px;top:575px;width:77px;height:108px"><div class="h">...ماشين آلا [+]</div></div>
<div class="t a" style="left:1297px;top:596px;width:40px;height:45px">بكاب</div>
<div class="t g" style="left:1337px;top:596px;width:35px;height:45px">...بترا</div>
<div class="t g" style="left:1297px;top:641px;width:35px;height:42px">بكام</div>
<div class="t f" style="left:1332px;top:641px;width:19px;height:42px"></div>
<div class="t b" style="left:1351px;top:641px;width:21px;height:42px"></div>
<!-- AC -->
<div class="s" style="left:1375px;top:529px;width:58px;height:82px"><div class="h">... خرده [+]</div></div>
<div class="t a" style="left:1376px;top:550px;width:56px;height:58px;font-size:4px">افرو<br>4.99%</div>
<!-- AD -->
<div class="s" style="left:1375px;top:612px;width:58px;height:71px"><div class="h">...استخ [+]</div></div>
<div class="t a" style="left:1376px;top:633px;width:38px;height:50px">كزغال</div>
<div class="t g" style="left:1414px;top:633px;width:18px;height:22px"></div>
<div class="t b" style="left:1414px;top:655px;width:18px;height:13px"></div>
<div class="t a" style="left:1414px;top:668px;width:18px;height:15px"></div>
<!-- AE -->
<div class="s" style="left:1433px;top:529px;width:73px;height:55px"><div class="h">...محصولا [+]</div></div>
<div class="t d" style="left:1434px;top:549px;width:26px;height:34px">...ج</div>
<div class="t e" style="left:1460px;top:549px;width:23px;height:34px"></div>
<div class="t b" style="left:1483px;top:549px;width:22px;height:28px"></div>
<div class="t g" style="left:1483px;top:577px;width:22px;height:6px"></div>
<!-- AF -->
<div class="s" style="left:1507px;top:529px;width:57px;height:55px"><div class="h">...خدما [+]</div></div>
<div class="t a" style="left:1508px;top:549px;width:31px;height:34px">...ر</div>
<div class="t c" style="left:1539px;top:549px;width:25px;height:34px">...ر</div>
<!-- AG -->
<div class="s" style="left:1433px;top:585px;width:55px;height:55px"><div class="h">...كاش [+]</div></div>
<div class="t a" style="left:1434px;top:605px;width:22px;height:34px"></div>
<div class="t k" style="left:1456px;top:605px;width:20px;height:23px"></div>
<div class="t f" style="left:1476px;top:605px;width:11px;height:23px"></div>
<div class="t c" style="left:1456px;top:628px;width:20px;height:11px"></div>
<div class="t a" style="left:1476px;top:628px;width:11px;height:11px"></div>
<!-- AH -->
<div class="s" style="left:1489px;top:585px;width:42px;height:55px"><div class="h">...مس [+]</div></div>
<div class="t k" style="left:1490px;top:605px;width:40px;height:34px">همراه</div>
<!-- AI -->
<div class="s" style="left:1532px;top:585px;width:32px;height:55px"><div class="h">...[+]</div></div>
<div class="t c" style="left:1533px;top:605px;width:31px;height:34px">...ج</div>
<!-- AJ -->
<div class="s" style="left:1433px;top:642px;width:55px;height:41px"><div class="h">...استخ [+]</div></div>
<div class="t a" style="left:1434px;top:662px;width:53px;height:21px"></div>
<div class="s" style="left:1489px;top:642px;width:31px;height:41px"><div class="h">[+]...</div></div>
<div class="t a" style="left:1490px;top:657px;width:29px;height:26px">...با</div>
<div class="s" style="left:1521px;top:642px;width:28px;height:24px"><div class="h">[+]...</div></div>
<div class="t a" style="left:1522px;top:660px;width:26px;height:5px"></div>
<div class="s" style="left:1521px;top:667px;width:28px;height:16px"><div class="h">[...</div></div>
<div class="s" style="left:1550px;top:642px;width:14px;height:41px"></div>
</div>
</body></html>
